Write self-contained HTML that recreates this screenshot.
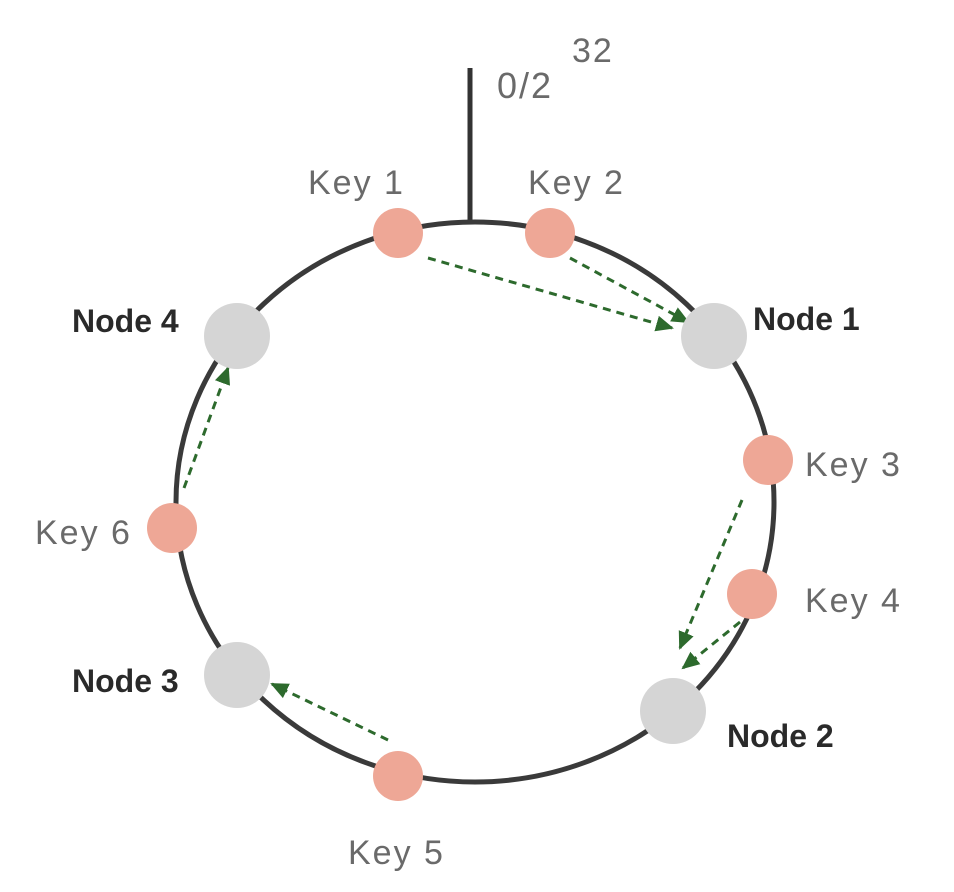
<!DOCTYPE html>
<html><head><meta charset="utf-8"><style>
html,body{margin:0;padding:0;background:#fff;}
svg{display:block}
text{font-family:"Liberation Sans",sans-serif;font-size:31px;}
.k{fill:#6a6a6a;font-size:34px;letter-spacing:2px;}
.n{fill:#2a2a2a;font-weight:bold;font-size:32px;}
</style></head><body>
<svg width="954" height="892" viewBox="0 0 954 892" xmlns="http://www.w3.org/2000/svg">
<defs>
<marker id="b" markerWidth="20" markerHeight="20" refX="16" refY="10" orient="auto" markerUnits="userSpaceOnUse">
<path d="M0,2 L18,10 L0,18 z" fill="#2d6a2d"/></marker>
</defs>
<line x1="470" y1="68" x2="470" y2="224" stroke="#333" stroke-width="5"/>
<ellipse cx="475" cy="502" rx="299" ry="280" fill="none" stroke="#3a3a3a" stroke-width="5"/>
<text x="497" y="98" fill="#6a6a6a" style="font-size:36px;letter-spacing:2px">0/2</text>
<text x="572" y="62" fill="#6a6a6a" style="font-size:34px;letter-spacing:2px">32</text>
<g stroke="#2d6a2d" stroke-width="3" stroke-dasharray="8,6" fill="none" marker-end="url(#b)">
<line x1="428" y1="258" x2="672" y2="328"/>
<line x1="570" y1="258" x2="688" y2="322"/>
<line x1="742" y1="500" x2="680" y2="648"/>
<line x1="740" y1="622" x2="683" y2="668"/>
<line x1="388" y1="740" x2="272" y2="684"/>
<line x1="184" y1="488" x2="228" y2="368"/>
</g>
<g fill="#d5d5d5">
<circle cx="714" cy="336" r="33"/>
<circle cx="237" cy="336" r="33"/>
<circle cx="237" cy="675" r="33"/>
<circle cx="673" cy="711" r="33"/>
</g>
<g fill="#eea796">
<circle cx="398" cy="233" r="25"/>
<circle cx="550" cy="233" r="25"/>
<circle cx="768" cy="460" r="25"/>
<circle cx="752" cy="594" r="25"/>
<circle cx="398" cy="776" r="25"/>
<circle cx="172" cy="528" r="25"/>
</g>
<text x="308" y="194" class="k">Key 1</text>
<text x="528" y="194" class="k">Key 2</text>
<text x="805" y="476" class="k">Key 3</text>
<text x="805" y="612" class="k">Key 4</text>
<text x="348" y="864" class="k">Key 5</text>
<text x="35" y="544" class="k">Key 6</text>
<text x="72" y="332" class="n">Node 4</text>
<text x="753" y="330" class="n">Node 1</text>
<text x="72" y="692" class="n">Node 3</text>
<text x="727" y="747" class="n">Node 2</text>
</svg>
</body></html>
